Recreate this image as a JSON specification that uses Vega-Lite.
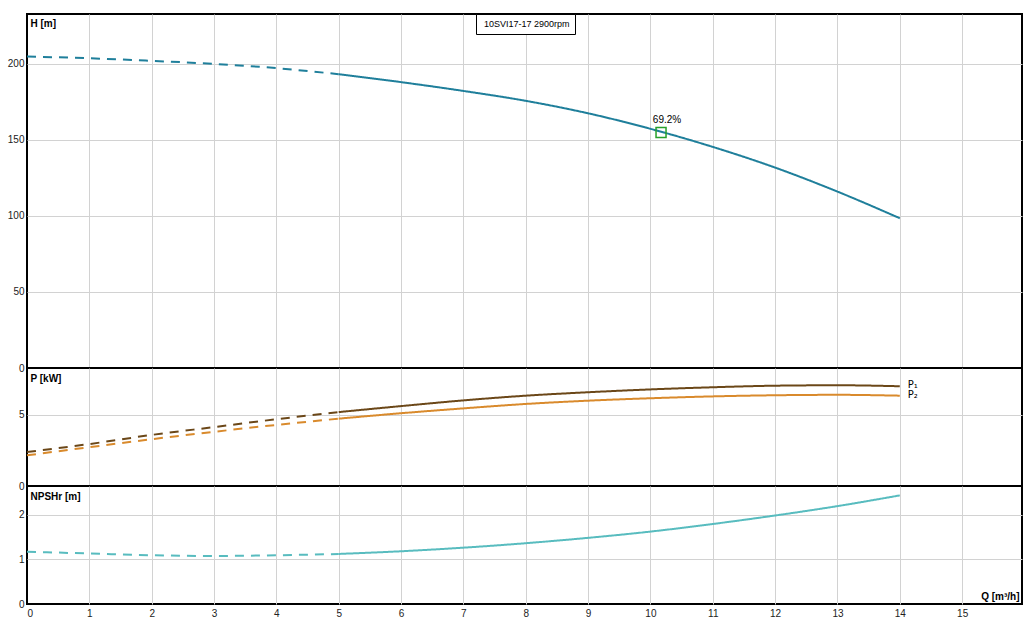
{
  "$schema": "https://vega.github.io/schema/vega-lite/v6.json",
  "background": "white",
  "padding": {"left": 6, "top": 12, "right": 8, "bottom": 8},
  "datasets": {
    "head": [
      {"Q": 0, "H": 204.8, "part": "extrapolated", "pump": "10SVI17-17 2900rpm"},
      {"Q": 1, "H": 203.7, "part": "extrapolated", "pump": "10SVI17-17 2900rpm"},
      {"Q": 2, "H": 202.0, "part": "extrapolated", "pump": "10SVI17-17 2900rpm"},
      {"Q": 3, "H": 200.0, "part": "extrapolated", "pump": "10SVI17-17 2900rpm"},
      {"Q": 4, "H": 197.2, "part": "extrapolated", "pump": "10SVI17-17 2900rpm"},
      {"Q": 5, "H": 193.2, "part": "extrapolated", "pump": "10SVI17-17 2900rpm"},
      {"Q": 5, "H": 193.2, "part": "operating", "pump": "10SVI17-17 2900rpm"},
      {"Q": 6, "H": 188.0, "part": "operating", "pump": "10SVI17-17 2900rpm"},
      {"Q": 7, "H": 182.2, "part": "operating", "pump": "10SVI17-17 2900rpm"},
      {"Q": 8, "H": 175.7, "part": "operating", "pump": "10SVI17-17 2900rpm"},
      {"Q": 9, "H": 167.5, "part": "operating", "pump": "10SVI17-17 2900rpm"},
      {"Q": 10, "H": 157.3, "part": "operating", "pump": "10SVI17-17 2900rpm"},
      {"Q": 11, "H": 145.4, "part": "operating", "pump": "10SVI17-17 2900rpm"},
      {"Q": 12, "H": 131.8, "part": "operating", "pump": "10SVI17-17 2900rpm"},
      {"Q": 13, "H": 116.0, "part": "operating", "pump": "10SVI17-17 2900rpm"},
      {"Q": 14, "H": 98.5, "part": "operating", "pump": "10SVI17-17 2900rpm"}
    ],
    "bep": [{"Q": 10.17, "H": 154.9, "eta": "69.2%"}],
    "power": [
      {"Q": 0, "P": 2.38, "curve": "P₁", "part": "extrapolated"},
      {"Q": 1, "P": 2.94, "curve": "P₁", "part": "extrapolated"},
      {"Q": 2, "P": 3.58, "curve": "P₁", "part": "extrapolated"},
      {"Q": 3, "P": 4.13, "curve": "P₁", "part": "extrapolated"},
      {"Q": 4, "P": 4.68, "curve": "P₁", "part": "extrapolated"},
      {"Q": 5, "P": 5.18, "curve": "P₁", "part": "extrapolated"},
      {"Q": 5, "P": 5.18, "curve": "P₁", "part": "operating"},
      {"Q": 6, "P": 5.6, "curve": "P₁", "part": "operating"},
      {"Q": 7, "P": 6.0, "curve": "P₁", "part": "operating"},
      {"Q": 8, "P": 6.33, "curve": "P₁", "part": "operating"},
      {"Q": 9, "P": 6.57, "curve": "P₁", "part": "operating"},
      {"Q": 10, "P": 6.77, "curve": "P₁", "part": "operating"},
      {"Q": 11, "P": 6.92, "curve": "P₁", "part": "operating"},
      {"Q": 12, "P": 7.03, "curve": "P₁", "part": "operating"},
      {"Q": 13, "P": 7.06, "curve": "P₁", "part": "operating"},
      {"Q": 14, "P": 6.99, "curve": "P₁", "part": "operating"},
      {"Q": 0, "P": 2.15, "curve": "P₂", "part": "extrapolated"},
      {"Q": 1, "P": 2.72, "curve": "P₂", "part": "extrapolated"},
      {"Q": 2, "P": 3.28, "curve": "P₂", "part": "extrapolated"},
      {"Q": 3, "P": 3.8, "curve": "P₂", "part": "extrapolated"},
      {"Q": 4, "P": 4.28, "curve": "P₂", "part": "extrapolated"},
      {"Q": 5, "P": 4.72, "curve": "P₂", "part": "extrapolated"},
      {"Q": 5, "P": 4.72, "curve": "P₂", "part": "operating"},
      {"Q": 6, "P": 5.1, "curve": "P₂", "part": "operating"},
      {"Q": 7, "P": 5.44, "curve": "P₂", "part": "operating"},
      {"Q": 8, "P": 5.75, "curve": "P₂", "part": "operating"},
      {"Q": 9, "P": 5.98, "curve": "P₂", "part": "operating"},
      {"Q": 10, "P": 6.15, "curve": "P₂", "part": "operating"},
      {"Q": 11, "P": 6.28, "curve": "P₂", "part": "operating"},
      {"Q": 12, "P": 6.36, "curve": "P₂", "part": "operating"},
      {"Q": 13, "P": 6.39, "curve": "P₂", "part": "operating"},
      {"Q": 14, "P": 6.33, "curve": "P₂", "part": "operating"}
    ],
    "npsh": [
      {"Q": 0, "NPSHr": 1.17, "part": "extrapolated"},
      {"Q": 1, "NPSHr": 1.13, "part": "extrapolated"},
      {"Q": 2, "NPSHr": 1.09, "part": "extrapolated"},
      {"Q": 3, "NPSHr": 1.075, "part": "extrapolated"},
      {"Q": 4, "NPSHr": 1.09, "part": "extrapolated"},
      {"Q": 5, "NPSHr": 1.12, "part": "extrapolated"},
      {"Q": 5, "NPSHr": 1.12, "part": "operating"},
      {"Q": 6, "NPSHr": 1.18, "part": "operating"},
      {"Q": 7, "NPSHr": 1.26, "part": "operating"},
      {"Q": 8, "NPSHr": 1.36, "part": "operating"},
      {"Q": 9, "NPSHr": 1.48, "part": "operating"},
      {"Q": 10, "NPSHr": 1.62, "part": "operating"},
      {"Q": 11, "NPSHr": 1.79, "part": "operating"},
      {"Q": 12, "NPSHr": 1.98, "part": "operating"},
      {"Q": 13, "NPSHr": 2.19, "part": "operating"},
      {"Q": 14, "NPSHr": 2.43, "part": "operating"}
    ]
  },
  "spacing": 0,
  "bounds": "flush",
  "resolve": {"scale": {"color": "independent", "strokeDash": "independent"}, "legend": {"color": "independent"}},
  "vconcat": [
    {
      "width": 995,
      "height": 354,
      "layer": [
        {
          "data": {"name": "head"},
          "mark": {"type": "line", "strokeWidth": 2, "interpolate": "monotone"},
          "encoding": {
            "x": {
              "field": "Q", "type": "quantitative",
              "scale": {"domain": [0, 15.96], "nice": false, "zero": false},
              "axis": {
                "values": [0, 1, 2, 3, 4, 5, 6, 7, 8, 9, 10, 11, 12, 13, 14, 15],
                "labels": false, "title": null,
                "gridOpacity": {"condition": {"test": "datum.value === 0", "value": 0}, "value": 1}
              }
            },
            "y": {
              "field": "H", "type": "quantitative",
              "scale": {"domain": [0, 232.8], "nice": false},
              "axis": {
                "values": [0, 50, 100, 150, 200],
                "title": "H [m]",
                "titleAngle": 0, "titleAlign": "left", "titleBaseline": "top",
                "titleX": 3, "titleY": 4,
                "gridOpacity": {"condition": {"test": "datum.value === 0", "value": 0}, "value": 1}
              }
            },
            "color": {
              "field": "pump", "type": "nominal",
              "scale": {"range": ["#1f7f9b"]},
              "legend": {
                "title": null, "orient": "none", "legendX": 449, "legendY": 0,
                "strokeColor": "black", "fillColor": "white", "padding": 5,
                "symbolType": "circle", "symbolSize": 0, "symbolOpacity": 0, "symbolStrokeWidth": 0,
                "labelOffset": -6,
                "labelFontSize": 9, "labelColor": "black"
              }
            },
            "strokeDash": {
              "field": "part", "type": "nominal",
              "scale": {"domain": ["extrapolated", "operating"], "range": [[9, 7], [1, 0]]},
              "legend": null
            }
          }
        },
        {
          "data": {"name": "bep"},
          "mark": {"type": "point", "shape": "square", "filled": false, "color": "#27a02a", "size": 100, "strokeWidth": 1.5, "opacity": 1},
          "encoding": {
            "x": {"field": "Q", "type": "quantitative"},
            "y": {"field": "H", "type": "quantitative"}
          }
        },
        {
          "data": {"name": "bep"},
          "mark": {"type": "text", "dx": 6, "dy": -12, "fontSize": 10, "color": "black"},
          "encoding": {
            "x": {"field": "Q", "type": "quantitative"},
            "y": {"field": "H", "type": "quantitative"},
            "text": {"field": "eta"}
          }
        }
      ]
    },
    {
      "width": 995,
      "height": 118,
      "data": {"name": "power"},
      "layer": [
        {
          "mark": {"type": "line", "strokeWidth": 2, "interpolate": "monotone"},
          "encoding": {
            "x": {
              "field": "Q", "type": "quantitative",
              "scale": {"domain": [0, 15.96], "nice": false, "zero": false},
              "axis": {
                "values": [0, 1, 2, 3, 4, 5, 6, 7, 8, 9, 10, 11, 12, 13, 14, 15],
                "labels": false, "title": null,
                "gridOpacity": {"condition": {"test": "datum.value === 0", "value": 0}, "value": 1}
              }
            },
            "y": {
              "field": "P", "type": "quantitative",
              "scale": {"domain": [0, 8.27], "nice": false},
              "axis": {
                "values": [0, 5],
                "title": "P [kW]",
                "titleAngle": 0, "titleAlign": "left", "titleBaseline": "top",
                "titleX": 3, "titleY": 5,
                "gridOpacity": {"condition": {"test": "datum.value === 0", "value": 0}, "value": 1}
              }
            },
            "color": {
              "field": "curve", "type": "nominal",
              "scale": {"domain": ["P₁", "P₂"], "range": ["#6b4718", "#d98a2c"]},
              "legend": null
            },
            "detail": {"field": "part"},
            "strokeDash": {
              "field": "part", "type": "nominal",
              "scale": {"domain": ["extrapolated", "operating"], "range": [[9, 7], [1, 0]]},
              "legend": null
            }
          }
        },
        {
          "transform": [{"filter": "datum.Q === 14"}],
          "mark": {"type": "text", "align": "left", "dx": 8, "dy": -1, "fontSize": 10, "font": "DejaVu Sans", "color": "black"},
          "encoding": {
            "x": {"field": "Q", "type": "quantitative"},
            "y": {"field": "P", "type": "quantitative"},
            "text": {"field": "curve"}
          }
        }
      ]
    },
    {
      "width": 995,
      "height": 118,
      "data": {"name": "npsh"},
      "mark": {"type": "line", "strokeWidth": 2, "interpolate": "monotone", "color": "#58bcbf"},
      "encoding": {
        "x": {
          "field": "Q", "type": "quantitative",
          "scale": {"domain": [0, 15.96], "nice": false, "zero": false},
          "axis": {
            "values": [0, 1, 2, 3, 4, 5, 6, 7, 8, 9, 10, 11, 12, 13, 14, 15],
            "title": "Q [m³/h]",
            "titleAlign": "right", "titleBaseline": "alphabetic",
            "titleX": 992, "titleY": -5,
            "labelPadding": 4,
            "gridOpacity": {"condition": {"test": "datum.value === 0", "value": 0}, "value": 1}
          }
        },
        "y": {
          "field": "NPSHr", "type": "quantitative",
          "scale": {"domain": [0, 2.64], "nice": false},
          "axis": {
            "values": [0, 1, 2],
            "title": "NPSHr [m]",
            "titleAngle": 0, "titleAlign": "left", "titleBaseline": "top",
            "titleX": 3, "titleY": 5,
            "gridOpacity": {"condition": {"test": "datum.value === 0", "value": 0}, "value": 1}
          }
        },
        "strokeDash": {
          "field": "part", "type": "nominal",
          "scale": {"domain": ["extrapolated", "operating"], "range": [[9, 7], [1, 0]]},
          "legend": null
        }
      }
    }
  ],
  "config": {
    "font": "Liberation Sans",
    "view": {"stroke": "black", "strokeWidth": 2},
    "axis": {
      "grid": true, "gridColor": "#d2d2d2", "gridWidth": 1,
      "domain": false, "ticks": false,
      "labelFontSize": 10, "labelColor": "#222222", "labelPadding": 3,
      "titleFontSize": 10, "titleFontWeight": "bold", "titleColor": "black"
    }
  }
}
